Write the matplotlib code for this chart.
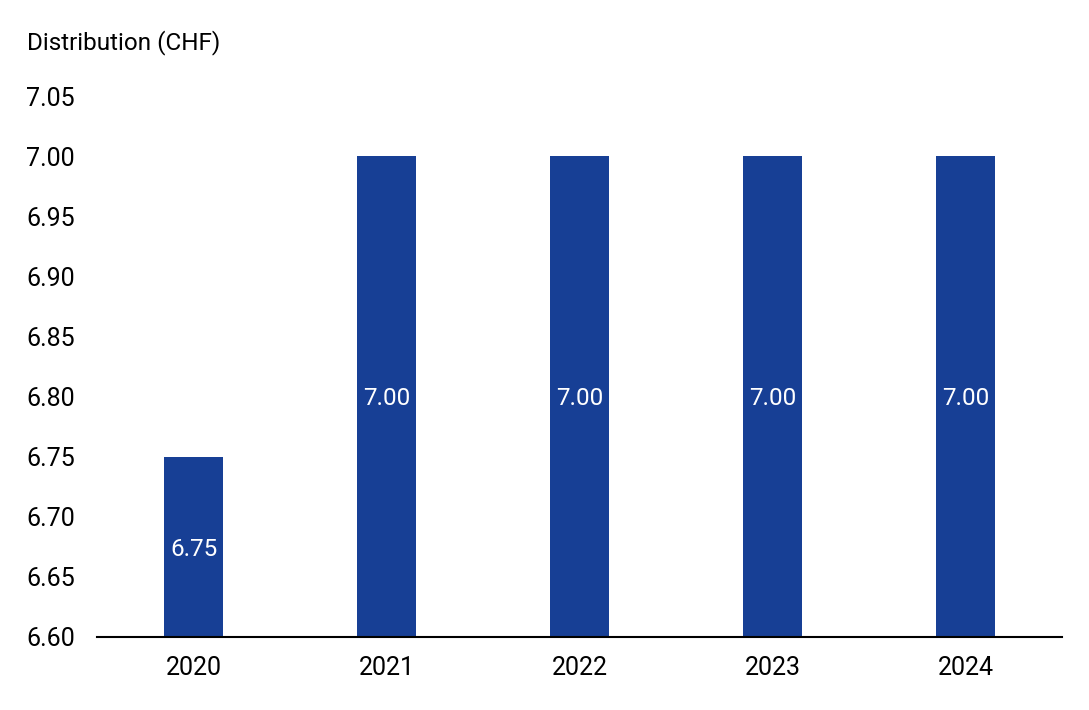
import matplotlib
matplotlib.use("Agg")
import matplotlib.pyplot as plt

years = ["2020", "2021", "2022", "2023", "2024"]
distribution = [6.75, 7.00, 7.00, 7.00, 7.00]
y_ticks = [6.60, 6.65, 6.70, 6.75, 6.80, 6.85, 6.90, 6.95, 7.00, 7.05]

plt.rcParams["font.family"] = ["Roboto", "DejaVu Sans"]

fig = plt.figure(figsize=(10.89, 7.10), dpi=100)
ax = fig.add_axes([97 / 1089, 1 - 637 / 710, 965 / 1089, (637 - 96) / 710])

bottom = y_ticks[0]
x = list(range(len(years)))
heights = [v - bottom for v in distribution]
bars = ax.bar(x, heights, bottom=bottom, width=0.31, color="#173F95")

for xi, v in zip(x, distribution):
    ax.text(xi, (v + bottom) / 2 - 0.002, f"{v:.2f}", ha="center", va="center",
            color="white", fontsize=17.5)

ax.set_xlim(-0.5, len(years) - 0.5)
ax.set_ylim(bottom, y_ticks[-1])
ax.set_xticks(x)
ax.set_xticklabels(years, fontsize=18)
ax.set_yticks(y_ticks)
ax.set_yticklabels([f"{t:.2f}" for t in y_ticks], fontsize=18)
ax.tick_params(axis="both", length=0)
ax.tick_params(axis="y", pad=16)
ax.tick_params(axis="x", pad=14)

for side in ["top", "right", "left"]:
    ax.spines[side].set_visible(False)
ax.spines["bottom"].set_linewidth(1.5)
ax.spines["bottom"].set_color("black")

fig.text(27 / 1089, 1 - 43 / 710, "Distribution (CHF)", fontsize=17.5,
         ha="left", va="center")

fig.savefig("out.png", dpi=100)
